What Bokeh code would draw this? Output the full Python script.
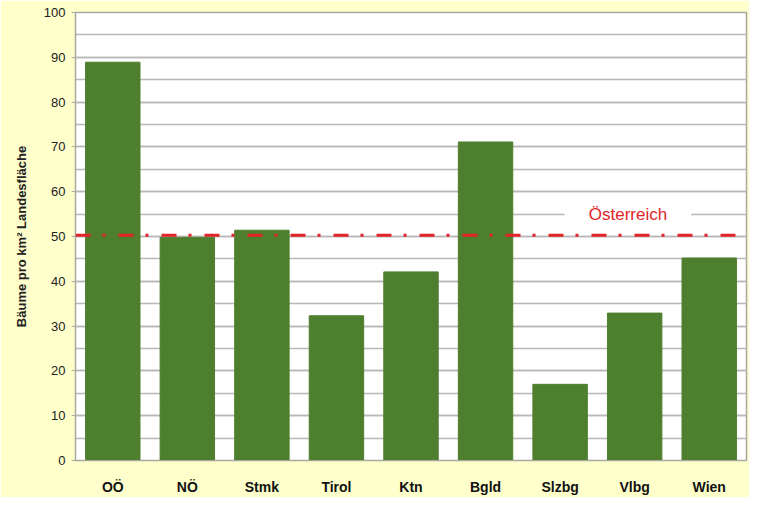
from bokeh.plotting import figure
from bokeh.models import ColumnDataSource, FactorRange, Span, Label, SingleIntervalTicker
from bokeh.embed import file_html
from bokeh.resources import INLINE

categories = ["OÖ", "NÖ", "Stmk", "Tirol", "Ktn", "Bgld", "Slzbg", "Vlbg", "Wien"]
values = [88.9, 49.8, 51.4, 32.3, 42.1, 71.1, 17.0, 32.9, 45.2]
austria_value = 50.3
austria_label = "Österreich"
y_ticks = list(range(0, 101, 10))

BG = "#FFFFCC"
GREEN = "#4E7F2E"
RED = "#E3232A"
FONT = "Liberation Sans"

src = ColumnDataSource(data=dict(cat=categories, val=values))

p = figure(width=749, height=497, output_backend="svg", toolbar_location=None,
           x_range=FactorRange(*categories, range_padding=0), y_range=(0, 100),
           min_border_left=75, min_border_right=3, min_border_top=12, min_border_bottom=29)
p.background_fill_color = "white"
p.border_fill_color = BG
p.outline_line_color = "#A8A8A0"
p.outline_line_width = 1.5

p.vbar(x="cat", top="val", width=0.73, source=src, fill_color=GREEN, line_color=GREEN)

p.add_layout(Span(location=austria_value, dimension="width", line_color=RED,
                  line_width=3, line_dash="15 12 3 13"))
p.add_layout(Label(x=7.41, y=55, text=austria_label, text_align="center",
                   text_baseline="middle", text_font=FONT, text_font_size="17px",
                   text_color=RED, background_fill_color="white",
                   padding=dict(left=24, right=24, top=1, bottom=1)))

p.xgrid.grid_line_color = None
p.ygrid.grid_line_color = "#B8B8B8"
p.ygrid.grid_line_width = 1.5
p.ygrid.minor_grid_line_color = "#B8B8B8"
p.ygrid.minor_grid_line_width = 1.5
p.yaxis.ticker = SingleIntervalTicker(interval=10, num_minor_ticks=2)
p.yaxis.major_label_overrides = {t: str(t) for t in y_ticks}

p.yaxis.axis_label = "Bäume pro km² Landesfläche"
p.yaxis.axis_label_text_font = FONT
p.yaxis.axis_label_text_font_style = "bold"
p.yaxis.axis_label_text_font_size = "13px"
p.yaxis.axis_label_text_color = "#222222"
p.yaxis.axis_label_standoff = 12
p.yaxis.major_label_text_font = FONT
p.yaxis.major_label_text_font_size = "13px"
p.yaxis.major_label_text_color = "#222222"
p.yaxis.axis_line_color = "#A8A8A0"
p.yaxis.major_tick_line_color = "#A8A8A0"
p.yaxis.major_tick_out = 4
p.yaxis.major_tick_in = 0
p.yaxis.minor_tick_line_color = None
p.yaxis.major_label_standoff = 6

p.xaxis.major_label_text_font = FONT
p.xaxis.major_label_text_font_style = "bold"
p.xaxis.major_label_text_font_size = "14px"
p.xaxis.major_label_text_color = "#111111"
p.xaxis.axis_line_color = "#A8A8A0"
p.xaxis.major_tick_line_color = None
p.xaxis.major_label_standoff = 12

open("out.html", "w").write(file_html(p, INLINE))
